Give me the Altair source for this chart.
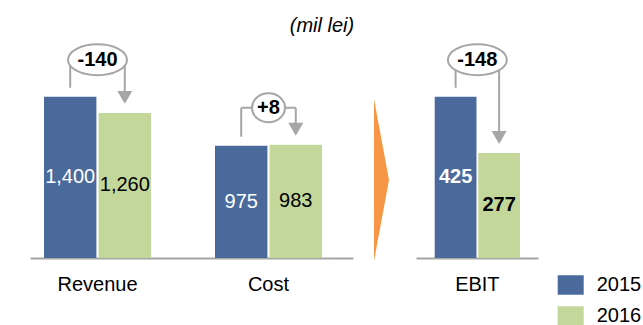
import altair as alt
import pandas as pd

# ---- data ----
categories = ["Revenue", "Cost", "EBIT"]
years = ["2015", "2016"]
values_2015 = [1400, 975, 425]
values_2016 = [1260, 983, 277]
unit_label = "(mil lei)"

# ---- styles ----
FONT = "Liberation Sans"
BLUE = "#4A6A9B"
GREEN = "#C4D79B"
GRAY = "#A6A6A6"
ORANGE = "#F79646"

# long table for bars
rows = []
for c, a, b in zip(categories, values_2015, values_2016):
    rows.append({"cat": c, "year": years[0], "value": a})
    rows.append({"cat": c, "year": years[1], "value": b})
bars_df = pd.DataFrame(rows)

# annotation table (change labels + bracket geometry derived from values)
ann = []
for c, a, b in zip(categories, values_2015, values_2016):
    label = f"{b - a:+d}"
    rx = 6.5 * len(label) + 3.5
    ry = 0.5 * len(label) + 13.5
    path = f"M{-rx},0A{rx},{ry} 0 1,1 {rx},0A{rx},{ry} 0 1,1 {-rx},0Z"
    ann.append({"cat": c, "v15": a, "v16": b, "top": max(a, b), "label": label,
                "k15": years[0], "k16": years[1], "shape": path})
ann_df = pd.DataFrame(ann)

x_axis = alt.Axis(orient="bottom", domainColor=GRAY, domainWidth=2, ticks=False,
                  labelFontSize=20, labelFont=FONT, labelColor="black", labelPadding=16,
                  labelAngle=0, grid=False, title=None)

xo_scale = alt.Scale(domain=years, paddingInner=0.04, paddingOuter=0)
color_scale = alt.Scale(domain=years, range=[BLUE, GREEN])
legend = alt.Legend(orient="none", legendX=557.7, legendY=272, title=None,
                    symbolType="M-1,-0.75L1,-0.75L1,0.75L-1,0.75Z", symbolSize=676,
                    symbolStrokeWidth=0, labelFontSize=20, labelFont=FONT,
                    labelColor="black", labelOffset=13, rowPadding=8,
                    direction="vertical", padding=0)

BRACKET = -37


def panel(cats, x_scale, y_scale, bold):
    bdf = bars_df[bars_df["cat"].isin(cats)]
    adf = ann_df[ann_df["cat"].isin(cats)]
    X = alt.X("cat:N", scale=x_scale, axis=x_axis)
    Y = lambda f: alt.Y(f, scale=y_scale, axis=None)

    bars = alt.Chart(bdf).mark_bar().encode(
        x=X, xOffset=alt.XOffset("year:N", scale=xo_scale),
        y=Y("value:Q"),
        color=alt.Color("year:N", scale=color_scale, legend=legend),
    )
    labels = alt.Chart(bdf).transform_calculate(mid="datum.value / 2").mark_text(
        font=FONT, fontSize=20, fontWeight="bold" if bold else "normal", baseline="middle"
    ).encode(
        x=X, xOffset=alt.XOffset("year:N", scale=xo_scale),
        y=Y("mid:Q"),
        text=alt.Text("value:Q", format=","),
        color=alt.condition("datum.year == '2015'", alt.value("white"), alt.value("black")),
    )
    v15 = alt.Chart(adf).mark_rule(color=GRAY, strokeWidth=2, yOffset=BRACKET, y2Offset=-9).encode(
        x=X, xOffset=alt.XOffset("k15:N", scale=xo_scale), y=Y("top:Q"), y2="v15:Q")
    v16 = alt.Chart(adf).mark_rule(color=GRAY, strokeWidth=2, yOffset=BRACKET, y2Offset=-15).encode(
        x=X, xOffset=alt.XOffset("k16:N", scale=xo_scale), y=Y("top:Q"), y2="v16:Q")
    hr = alt.Chart(adf).mark_rule(color=GRAY, strokeWidth=2, yOffset=BRACKET).encode(
        x=alt.X("cat:N", scale=x_scale, axis=x_axis, bandPosition=0.245),
        x2=alt.X2("cat:N", bandPosition=0.755),
        y=Y("top:Q"))
    arrow = alt.Chart(adf).mark_point(shape="triangle-down", filled=True, size=225,
                                      color=GRAY, opacity=1, yOffset=-15.5).encode(
        x=X, xOffset=alt.XOffset("k16:N", scale=xo_scale), y=Y("v16:Q"))
    ell = alt.Chart(adf).mark_point(filled=True, fill="white", stroke=GRAY, strokeWidth=2,
                                    size=4, opacity=1, yOffset=BRACKET).encode(
        x=X, y=Y("top:Q"), shape=alt.Shape("shape:N", scale=None))
    etext = alt.Chart(adf).mark_text(font=FONT, fontSize=20, fontWeight="bold",
                                     baseline="middle", yOffset=BRACKET).encode(
        x=X, y=Y("top:Q"), text="label:N")
    return alt.layer(bars, labels, v15, v16, hr, arrow, ell, etext)


left = panel(["Revenue", "Cost"],
             alt.Scale(domain=["Revenue", "Cost"], range=[30, 353], paddingInner=0.3743,
                       paddingOuter=0.1316, align=0.311),
             alt.Scale(domain=[0, 2240], nice=False, zero=True), bold=False)
right = panel(["EBIT"],
              alt.Scale(domain=["EBIT"], range=[416, 538], paddingInner=0,
                        paddingOuter=0.2151, align=0.5095),
              alt.Scale(domain=[0, 680], nice=False, zero=True), bold=True)

title_t = alt.Chart(alt.Data(values=[{"t": unit_label}])).mark_text(
    font=FONT, fontSize=20, fontStyle="italic", baseline="middle", align="center"
).encode(x=alt.value(322), y=alt.value(26), text="t:N")

chevron = alt.Chart(alt.Data(values=[{"k": 1}])).mark_point(
    shape="M0,-81L15,0L0,81Z", size=4, filled=True, fill=ORANGE, opacity=1, strokeWidth=0
).encode(x=alt.value(374), y=alt.value(180))

chart = alt.layer(left, right, title_t, chevron).resolve_scale(
    x="independent", y="independent", xOffset="independent"
).properties(
    width=643, height=258,
    autosize=alt.AutoSizeParams(type="none"),
    padding={"left": 0, "top": 0, "right": 0, "bottom": 67},
).configure_view(strokeWidth=0)

chart.save("out.html", embed_options={"renderer": "svg", "actions": False})
